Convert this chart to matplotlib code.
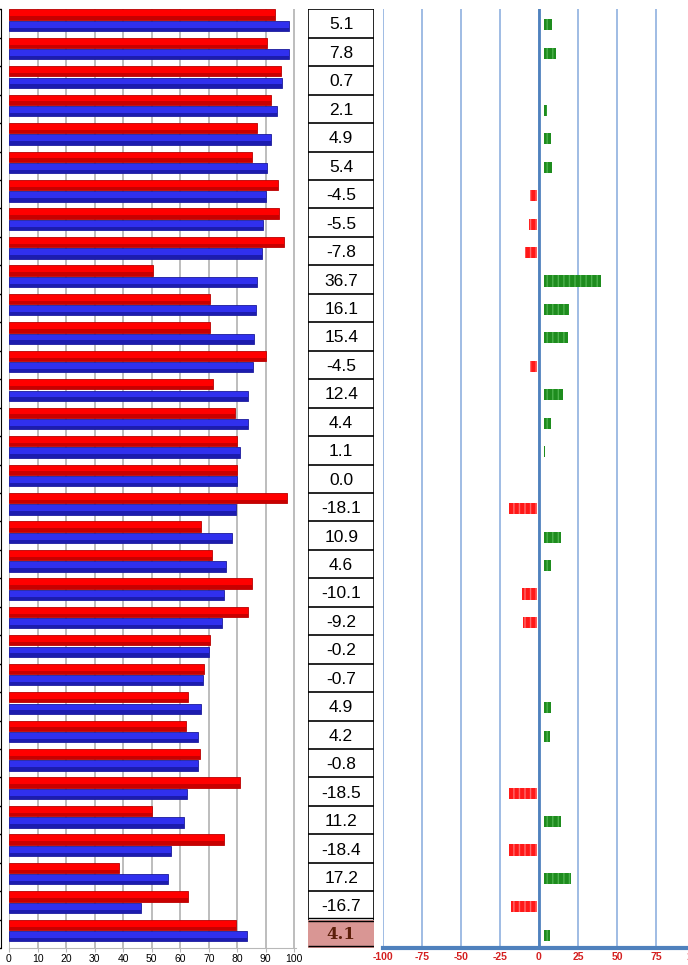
import matplotlib.pyplot as plt
import numpy as np

# values (33 rows, last row is the total)
red = [93.2, 90.4, 95.2, 91.7, 87.0, 85.2, 94.4, 94.7, 96.4, 50.3,
       70.6, 70.5, 90.0, 71.4, 79.2, 79.9, 80.0, 97.6, 67.3, 71.3,
       85.3, 83.8, 70.4, 68.5, 62.6, 62.2, 67.1, 81.1, 50.1, 75.5,
       38.4, 62.8, 79.5]
blue = [98.3, 98.2, 95.8, 93.8, 91.9, 90.6, 90.0, 89.2, 88.6, 87.0,
        86.7, 85.9, 85.5, 83.7, 83.7, 80.9, 80.0, 79.5, 78.3, 76.0,
        75.2, 74.7, 70.1, 67.9, 67.4, 66.4, 66.2, 62.4, 61.2, 56.9,
        55.6, 46.1, 83.5]
change = [5.1, 7.8, 0.7, 2.1, 4.9, 5.4, -4.5, -5.5, -7.8, 36.7,
          16.1, 15.4, -4.5, 12.4, 4.4, 1.1, 0.0, -18.1, 10.9, 4.6,
          -10.1, -9.2, -0.2, -0.7, 4.9, 4.2, -0.8, -18.5, 11.2, -18.4,
          17.2, -16.7, 4.1]
left_ticks = list(range(0, 101, 10))
right_ticks = list(range(-100, 101, 25))

plt.rcParams['font.family'] = ['Liberation Sans', 'DejaVu Sans']
plt.rcParams['axes.unicode_minus'] = False

W, H = 688, 965
fig = plt.figure(figsize=(W / 100, H / 100), dpi=100)

top_px, bot_px = 9.3, 948.2
b = 1 - bot_px / H
h = (bot_px - top_px) / H

def box(x0, x1):
    return [x0 / W, b, (x1 - x0) / W, h]

n = len(change)
y = np.arange(n)

# ---- left: red / blue bars
ax1 = fig.add_axes(box(9, 296))
ax1.barh(y + 0.18, red, height=0.36, color='#ff0000', edgecolor='#b80000', lw=0.6, zorder=3)
ax1.barh(y + 0.30, red, height=0.12, color='#c80000', lw=0, zorder=3)
ax1.barh(y + 0.58, blue, height=0.36, color='#3030ee', edgecolor='#1a1a9a', lw=0.6, zorder=3)
ax1.barh(y + 0.70, blue, height=0.12, color='#1c1cae', lw=0, zorder=3)
ax1.set_xlim(0, 100.6)
ax1.set_ylim(n, 0)
ax1.set_xticks(left_ticks)
ax1.grid(axis='x', color='#b8b8b8', lw=1.3)
ax1.set_axisbelow(True)
ax1.set_yticks(np.arange(0, n + 1))
ax1.set_yticklabels([])
ax1.tick_params(axis='y', length=3, color='black', width=1)
ax1.tick_params(axis='x', length=3, color='#b8b8b8', labelsize=7.5, pad=1.5)
for s in ['top', 'right']:
    ax1.spines[s].set_visible(False)
ax1.spines['left'].set_position(('outward', 6))
ax1.spines['left'].set_color('black')
ax1.spines['bottom'].set_color('#b8b8b8')

# ---- middle: table of changes
ax2 = fig.add_axes(box(308.3, 374))
ax2.set_xlim(0, 1)
ax2.set_ylim(n, 0)
ax2.axis('off')
ax2.axhspan(n - 1, n, color='#d99694', lw=0)
ax2.hlines(np.arange(0, n - 1), 0, 1, color='black', lw=1.2)
ax2.hlines([n - 1 - 0.05, n - 1 + 0.05, n - 0.06, n + 0.06], 0, 1, color='black', lw=1)
ax2.vlines([0, 1], 0, n - 1, color='black', lw=1.2)
for i, v in enumerate(change[:-1]):
    ax2.text(0.5, i + 0.55, f"{v:.1f}", ha='center', va='center', fontsize=12.5)
ax2.text(0.5, n - 0.48, f"{change[-1]:.1f}", ha='center', va='center', fontsize=12,
         family='DejaVu Serif', weight='bold', color='#5c1f0a')

# ---- right: change bars
ax3 = fig.add_axes(box(383, 695))
c = np.array(change)
show = np.abs(c) >= 1
pos = show & (c > 0)
neg = show & (c < 0)
ax3.barh(y[pos] + 0.55, c[pos], left=3, height=0.39, color='#1e8c1e',
         edgecolor='#4cb24c', hatch='|||', lw=0, zorder=3)
ax3.barh(y[neg] + 0.55, c[neg], left=-1, height=0.39, color='#ff1818',
         edgecolor='#ff6a6a', hatch='|||', lw=0, zorder=3)
ax3.set_xlim(-100, 100)
ax3.set_ylim(n, 0)
ax3.set_xticks(right_ticks)
ax3.set_yticks([])
ax3.grid(axis='x', color='#9fbce4', lw=1.4)
ax3.axvline(0, color='#4f81bd', lw=2, zorder=2)
ax3.set_axisbelow(True)
for s in ['top', 'right', 'left']:
    ax3.spines[s].set_visible(False)
ax3.spines['bottom'].set_color('#4f81bd')
ax3.spines['bottom'].set_linewidth(3)
ax3.tick_params(axis='x', length=0, pad=3, labelsize=7.5, labelcolor='#d42020')
for t in ax3.get_xticklabels():
    t.set_fontweight('bold')

fig.savefig('out.png', dpi=100)
